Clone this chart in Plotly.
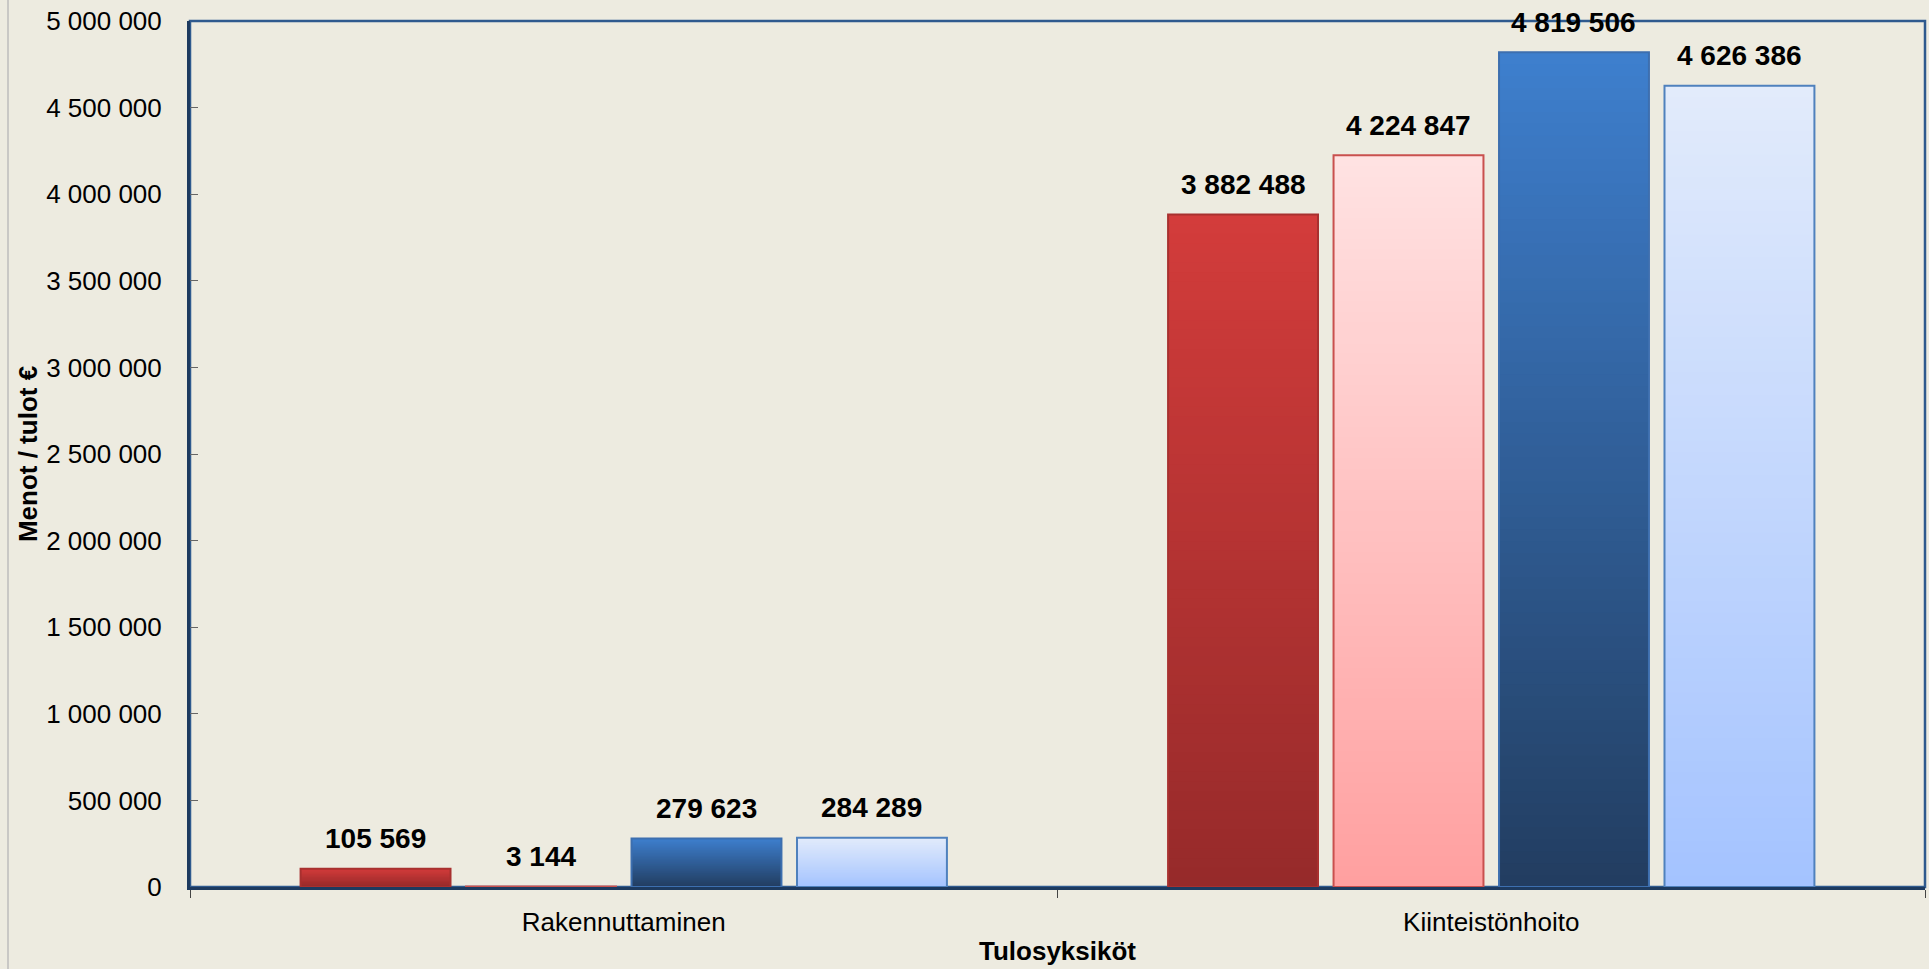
import plotly.graph_objects as go

# Data
categories = ["Rakennuttaminen", "Kiinteistönhoito"]
series_1 = [105569, 3882488]
series_2 = [3144, 4224847]
series_3 = [279623, 4819506]
series_4 = [284289, 4626386]

y_title = "Menot / tulot €"
x_title = "Tulosyksiköt"

# Styles: (top colour, bottom colour, edge colour)
styles = [
    ("#D33C3B", "#962A2A", "#A8302F"),
    ("#FFE2E2", "#FFA0A0", "#C9504E"),
    ("#3E7FCE", "#223D60", "#3D6FAF"),
    ("#E2EBFB", "#A4C3FF", "#4F81BD"),
]

W, H = 1929, 969
M_L, M_R, M_T, M_B = 190, 4, 21, 82
BARGAP = 0.237
BARGROUPGAP = 0.094
N_SEG = 70


def hex_rgb(h):
    h = h.lstrip("#")
    return [int(h[i:i + 2], 16) for i in (0, 2, 4)]


def mix(c0, c1, t):
    a, b = hex_rgb(c0), hex_rgb(c1)
    return "rgb(%d,%d,%d)" % tuple(round(a[i] + (b[i] - a[i]) * t) for i in range(3))


fig = go.Figure()

all_series = [series_1, series_2, series_3, series_4]

# gradient: overlapping bars from full height down, each a bit shorter and darker
for s, (vals, (top, bottom, edge)) in enumerate(zip(all_series, styles)):
    for k in range(N_SEG):
        frac = (N_SEG - k) / N_SEG
        t = (N_SEG - k - 0.5) / N_SEG
        fig.add_trace(go.Bar(
            x=categories,
            y=[v * frac for v in vals],
            offsetgroup=str(s),
            marker=dict(color=mix(bottom, top, t), line=dict(width=0)),
            hoverinfo="skip",
            showlegend=False,
        ))
    # outline
    fig.add_trace(go.Bar(
        x=categories,
        y=vals,
        offsetgroup=str(s),
        marker=dict(color="rgba(0,0,0,0)", line=dict(color=edge, width=2)),
        hovertemplate="%{x}<br>%{y:,d}<extra></extra>",
        showlegend=False,
    ))

# data labels
plot_w = W - M_L - M_R
slot = plot_w / len(categories) * (1 - BARGAP) / len(all_series)
for s, vals in enumerate(all_series):
    for cat, v in zip(categories, vals):
        fig.add_annotation(
            x=cat, y=v, xref="x", yref="y",
            text="<b>" + f"{v:,}".replace(",", " ") + "</b>",
            showarrow=False,
            xshift=(s - (len(all_series) - 1) / 2) * slot,
            yshift=30,
            yanchor="middle",
            font=dict(family="Liberation Sans, Arial", size=28, color="black"),
        )

# plot border and left edge line
fig.add_shape(type="rect", xref="paper", yref="paper", x0=0, x1=1, y0=0, y1=1,
              line=dict(color="#2F5A8E", width=2.5), layer="below")
fig.add_shape(type="line", xref="paper", yref="paper",
              x0=(8 - M_L) / plot_w, x1=(8 - M_L) / plot_w, y0=-1, y1=2,
              line=dict(color="#BDBDBD", width=1.5))

fig.update_layout(
    width=W, height=H,
    margin=dict(l=M_L, r=M_R, t=M_T, b=M_B),
    paper_bgcolor="#EDEBE0",
    plot_bgcolor="#EDEBE0",
    barmode="group",
    bargap=BARGAP,
    bargroupgap=BARGROUPGAP,
    separators=", ",
    font=dict(family="Liberation Sans, Arial", color="black"),
)

fig.update_xaxes(
    showgrid=False,
    showline=True, linecolor="#1D3A5F", linewidth=3,
    ticks="outside", tickson="boundaries", ticklen=8, tickcolor="#444444",
    tickfont=dict(size=26),
    ticklabelstandoff=10,
    title=dict(text="<b>" + x_title + "</b>", font=dict(size=26), standoff=6),
)

fig.update_yaxes(
    range=[0, 5000000],
    tick0=0, dtick=500000,
    tickformat=",d",
    showgrid=False, zeroline=False,
    showline=True, linecolor="#1D3A5F", linewidth=3,
    ticks="inside", ticklen=8, tickcolor="#666666",
    tickfont=dict(size=26),
    ticklabelstandoff=20,
    title=dict(text="<b>" + y_title + "</b>", font=dict(size=26), standoff=2),
)

fig.write_html(
    "out.html",
    config={"displayModeBar": False},
    post_script="document.body.style.margin='0';document.body.style.overflow='hidden';",
)
